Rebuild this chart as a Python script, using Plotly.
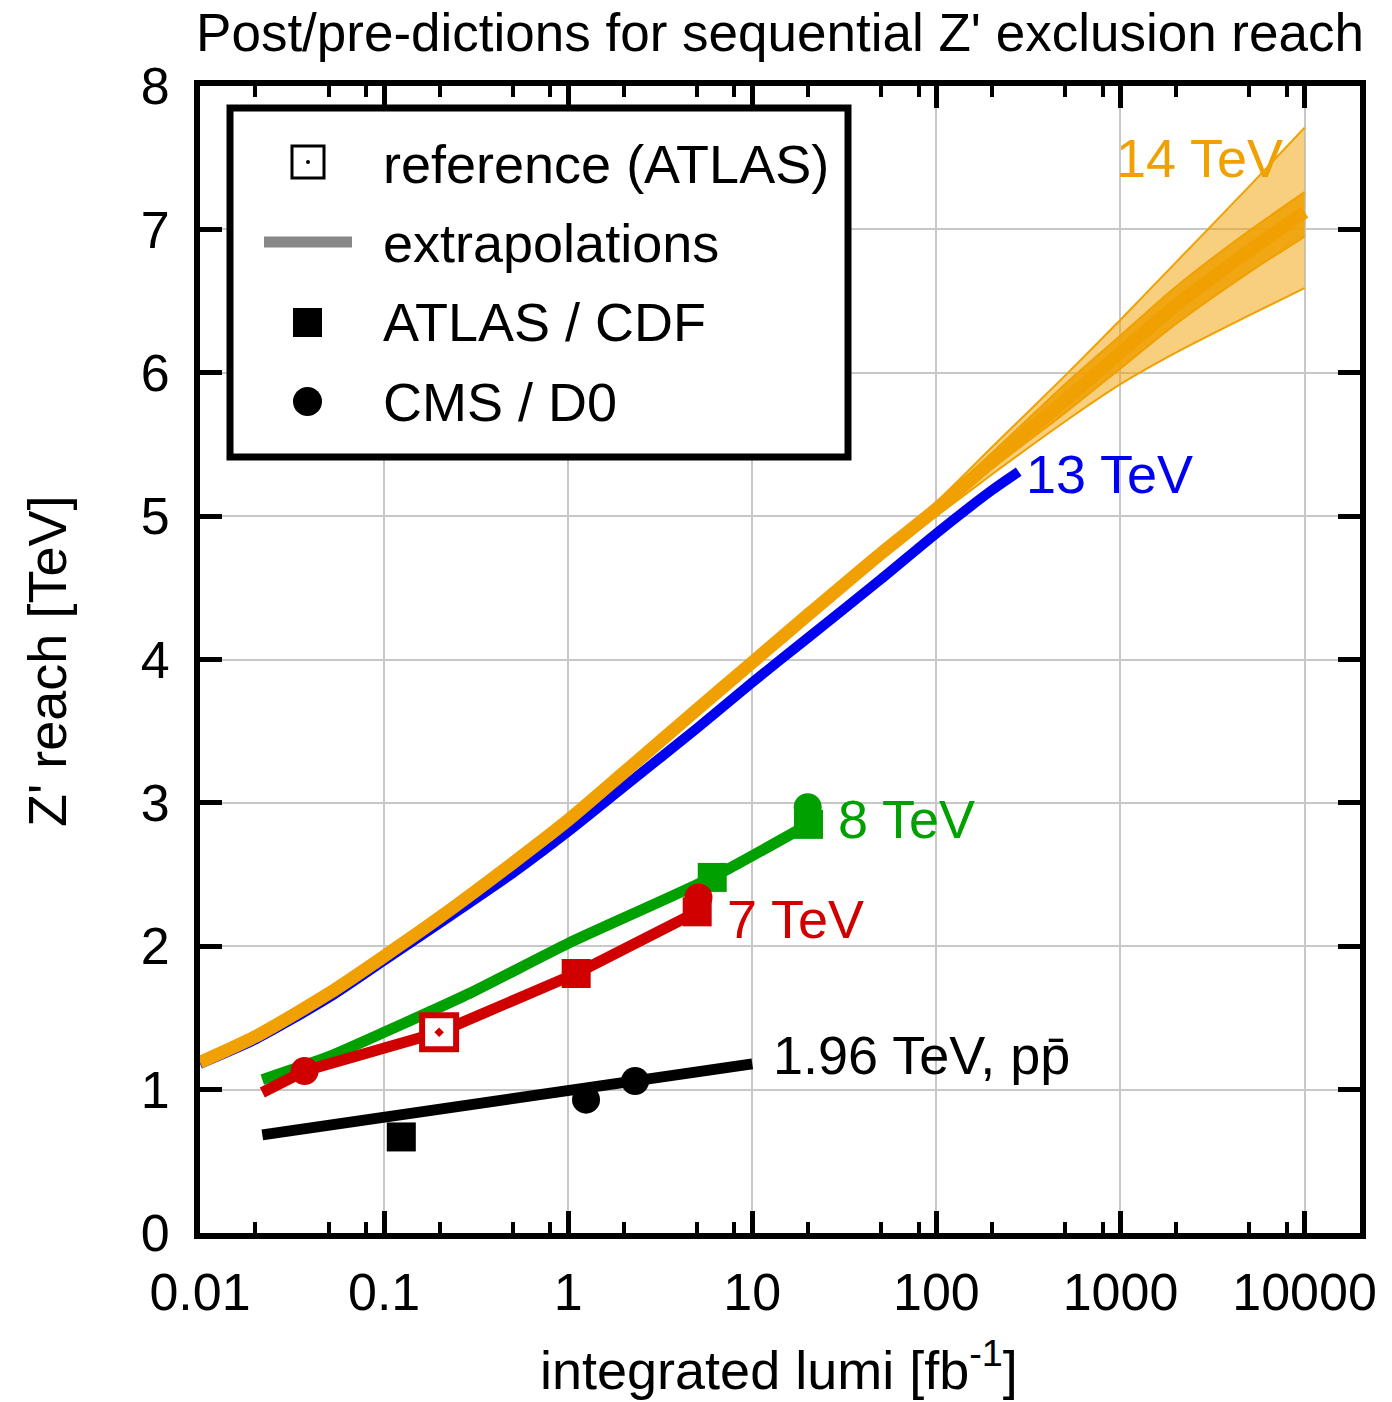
import plotly.graph_objects as go

# ---------------- data ----------------
# 14 TeV extrapolation (central curve)
lumi_14 = [0.01, 0.02, 0.05, 0.1, 0.2, 0.5, 1, 2, 5, 10, 20, 50, 100, 200, 500, 1000, 2000, 5000, 10000]
reach_14 = [1.19, 1.37, 1.67, 1.93, 2.20, 2.58, 2.88, 3.21, 3.65, 3.98, 4.31, 4.74, 5.05, 5.38, 5.81, 6.14, 6.47, 6.85, 7.12]
# 14 TeV uncertainty band (outer envelope and inner bundle)
lumi_band = [20, 50, 100, 200, 500, 1000, 2000, 5000, 10000]
band_upper = [4.32, 4.77, 5.10, 5.48, 5.98, 6.37, 6.77, 7.30, 7.71]
band_lower = [4.30, 4.71, 5.00, 5.29, 5.66, 5.92, 6.14, 6.40, 6.59]
inner_upper = [4.32, 4.76, 5.09, 5.44, 5.92, 6.26, 6.60, 6.99, 7.26]
inner_lower = [4.30, 4.72, 5.01, 5.33, 5.72, 6.03, 6.34, 6.70, 6.95]

# 13 TeV extrapolation
lumi_13 = [0.01, 0.02, 0.05, 0.1, 0.2, 0.5, 1, 2, 5, 10, 20, 50, 100, 200, 280]
reach_13 = [1.18, 1.35, 1.64, 1.90, 2.16, 2.51, 2.80, 3.11, 3.52, 3.84, 4.15, 4.56, 4.88, 5.18, 5.31]

# 8 TeV extrapolation + data
lumi_8 = [0.0218, 0.05, 0.1, 0.29, 1, 6.06, 20.2]
reach_8 = [1.07, 1.23, 1.40, 1.67, 2.02, 2.48, 2.85]
lumi_8_atlas = [6.06, 20.2]
reach_8_atlas = [2.48, 2.85]
lumi_8_cms = [20.0]
reach_8_cms = [2.97]

# 7 TeV extrapolation + data
lumi_7 = [0.0218, 0.037, 0.199, 1.105, 5.02]
reach_7 = [0.98, 1.13, 1.40, 1.81, 2.24]
lumi_7_ref = [0.199]
reach_7_ref = [1.40]
lumi_7_atlas = [1.105, 5.02]
reach_7_atlas = [1.81, 2.24]
lumi_7_cms = [0.037, 5.1]
reach_7_cms = [1.13, 2.34]

# 1.96 TeV (Tevatron) extrapolation + data
lumi_tev = [0.0218, 1, 10]
reach_tev = [0.684, 1.00, 1.18]
lumi_tev_cdf = [0.124]
reach_tev_cdf = [0.67]
lumi_tev_d0 = [1.25, 2.31]
reach_tev_d0 = [0.93, 1.06]

x_tickvals = [0.01, 0.1, 1, 10, 100, 1000, 10000]
x_ticktext = ["0.01", "0.1", "1", "10", "100", "1000", "10000"]
x_minor = [m * 10.0 ** e for e in range(-2, 4) for m in (2, 5, 8)]
y_tickvals = [0, 1, 2, 3, 4, 5, 6, 7, 8]

# ---------------- style ----------------
ORANGE = "#F0A000"
BAND = "rgba(240,160,0,0.5)"
BLUE = "#0000F0"
GREEN = "#00A000"
RED = "#D00000"
BLACK = "#000000"
FONT = "Liberation Sans, Arial, Helvetica, sans-serif"
FS = 54      # legend / curve labels / axis titles
FS_TICK = 52

W, H = 1392, 1402
L, R, T, B = 200, 32, 86, 169
PW, PH = W - L - R, H - T - B


def px(x):
    return (x - L) / PW


def py(y):
    return (H - B - y) / PH


SM = 0.7
fig = go.Figure()

# 13 TeV (under the 14 TeV curve)
fig.add_trace(go.Scatter(x=lumi_13, y=reach_13, mode="lines",
                         line=dict(color=BLUE, width=10, shape="spline", smoothing=SM)))

# 14 TeV band
fig.add_trace(go.Scatter(x=lumi_band, y=band_lower, mode="lines",
                         line=dict(color=ORANGE, width=2, shape="spline", smoothing=SM)))
fig.add_trace(go.Scatter(x=lumi_band, y=band_upper, mode="lines",
                         line=dict(color=ORANGE, width=2, shape="spline", smoothing=SM),
                         fill="tonexty", fillcolor=BAND))
fig.add_trace(go.Scatter(x=lumi_band, y=inner_lower, mode="lines",
                         line=dict(color=ORANGE, width=2, shape="spline", smoothing=SM)))
fig.add_trace(go.Scatter(x=lumi_band, y=inner_upper, mode="lines",
                         line=dict(color=ORANGE, width=2, shape="spline", smoothing=SM),
                         fill="tonexty", fillcolor="rgba(240,160,0,0.85)"))
fig.add_trace(go.Scatter(x=lumi_14, y=reach_14, mode="lines",
                         line=dict(color=ORANGE, width=13, shape="spline", smoothing=SM)))

# 8 TeV
fig.add_trace(go.Scatter(x=lumi_8, y=reach_8, mode="lines",
                         line=dict(color=GREEN, width=11, shape="spline", smoothing=0.5)))
fig.add_trace(go.Scatter(x=lumi_8_cms, y=reach_8_cms, mode="markers",
                         marker=dict(symbol="circle", size=28, color=GREEN)))
fig.add_trace(go.Scatter(x=lumi_8_atlas, y=reach_8_atlas, mode="markers",
                         marker=dict(symbol="square", size=29, color=GREEN)))

# 7 TeV
fig.add_trace(go.Scatter(x=lumi_7, y=reach_7, mode="lines",
                         line=dict(color=RED, width=11)))
fig.add_trace(go.Scatter(x=lumi_7_cms, y=reach_7_cms, mode="markers",
                         marker=dict(symbol="circle", size=28, color=RED)))
fig.add_trace(go.Scatter(x=lumi_7_atlas, y=reach_7_atlas, mode="markers",
                         marker=dict(symbol="square", size=29, color=RED)))
fig.add_trace(go.Scatter(x=lumi_7_ref, y=reach_7_ref, mode="markers",
                         marker=dict(symbol="square", size=36, color="white")))
fig.add_trace(go.Scatter(x=lumi_7_ref, y=reach_7_ref, mode="markers",
                         marker=dict(symbol="square-open-dot", size=34, color=RED,
                                     line=dict(color=RED, width=6))))

# 1.96 TeV
fig.add_trace(go.Scatter(x=lumi_tev, y=reach_tev, mode="lines",
                         line=dict(color=BLACK, width=11)))
fig.add_trace(go.Scatter(x=lumi_tev_cdf, y=reach_tev_cdf, mode="markers",
                         marker=dict(symbol="square", size=29, color=BLACK)))
fig.add_trace(go.Scatter(x=lumi_tev_d0, y=reach_tev_d0, mode="markers",
                         marker=dict(symbol="circle", size=28, color=BLACK)))

# ---------------- custom legend box ----------------
shapes = [
    dict(type="rect", xref="paper", yref="paper", x0=px(230), x1=px(848), y0=py(457), y1=py(108),
         line=dict(color=BLACK, width=7), fillcolor="white", layer="above"),
    dict(type="rect", xref="paper", yref="paper", x0=px(292), x1=px(324), y0=py(178), y1=py(146),
         line=dict(color=BLACK, width=3), fillcolor="white", layer="above"),
    dict(type="circle", xref="paper", yref="paper", x0=px(306), x1=px(310), y0=py(164), y1=py(160),
         line=dict(width=0), fillcolor=BLACK, layer="above"),
    dict(type="line", xref="paper", yref="paper", x0=px(264), x1=px(352), y0=py(242), y1=py(242),
         line=dict(color="#888888", width=11), layer="above"),
    dict(type="rect", xref="paper", yref="paper", x0=px(293), x1=px(322), y0=py(337), y1=py(308),
         line=dict(width=0), fillcolor=BLACK, layer="above"),
    dict(type="circle", xref="paper", yref="paper", x0=px(293), x1=px(322), y0=py(416), y1=py(387),
         line=dict(width=0), fillcolor=BLACK, layer="above"),
]

legend_rows = [("reference (ATLAS)", 164), ("extrapolations", 243),
               ("ATLAS / CDF", 322), ("CMS / D0", 402)]
annotations = []
for txt, yy in legend_rows:
    annotations.append(dict(text=txt, xref="paper", yref="paper", x=px(381), y=py(yy),
                            xanchor="left", yanchor="middle", showarrow=False,
                            font=dict(family=FONT, size=FS, color=BLACK)))

# curve labels
curve_labels = [("14 TeV", ORANGE, 1114, 158), ("13 TeV", BLUE, 1024, 474),
                ("8 TeV", GREEN, 836, 819), ("7 TeV", RED, 725, 919),
                ("1.96 TeV, pp\u0304", BLACK, 771, 1055)]
for txt, col, xx, yy in curve_labels:
    annotations.append(dict(text=txt, xref="paper", yref="paper", x=px(xx), y=py(yy),
                            xanchor="left", yanchor="middle", showarrow=False,
                            font=dict(family=FONT, size=FS, color=col)))

# axis titles
annotations.append(dict(text="Z' reach [TeV]", xref="paper", yref="paper", x=px(47), y=py(661),
                        xanchor="center", yanchor="middle", textangle=-90, showarrow=False,
                        font=dict(family=FONT, size=FS, color=BLACK)))
annotations.append(dict(text="integrated lumi [fb<sup>-1</sup>]", xref="paper", yref="paper",
                        x=px(779), y=py(1366), xanchor="center", yanchor="middle", showarrow=False,
                        font=dict(family=FONT, size=FS, color=BLACK)))

axis_common = dict(showline=True, linewidth=6, linecolor=BLACK, mirror="allticks",
                   ticks="inside", ticklen=22, tickwidth=5, tickcolor=BLACK,
                   showgrid=True, gridcolor="#C8C8C8", gridwidth=2, zeroline=False,
                   tickfont=dict(family=FONT, size=FS_TICK, color=BLACK))

fig.update_layout(
    width=W, height=H,
    margin=dict(l=L, r=R, t=T, b=B),
    paper_bgcolor="white", plot_bgcolor="white",
    showlegend=False,
    title=dict(text="Post/pre-dictions for sequential Z' exclusion reach",
               x=780 / W, xref="container", xanchor="center",
               y=1 - 32 / H, yref="container", yanchor="middle",
               font=dict(family=FONT, size=53, color=BLACK)),
    xaxis=dict(type="log", range=[-2, 4.30103], tickvals=x_tickvals, ticktext=x_ticktext,
               ticklabelstandoff=9,
               minor=dict(tickvals=x_minor, ticks="inside", ticklen=11, tickwidth=4,
                          tickcolor=BLACK, showgrid=False),
               **axis_common),
    yaxis=dict(range=[0, 8], tickvals=y_tickvals, ticklabelstandoff=14, **axis_common),
    shapes=shapes,
    annotations=annotations,
)

fig.write_html("out.html", config={"displayModeBar": False},
               post_script="document.body.style.margin='0px';")
